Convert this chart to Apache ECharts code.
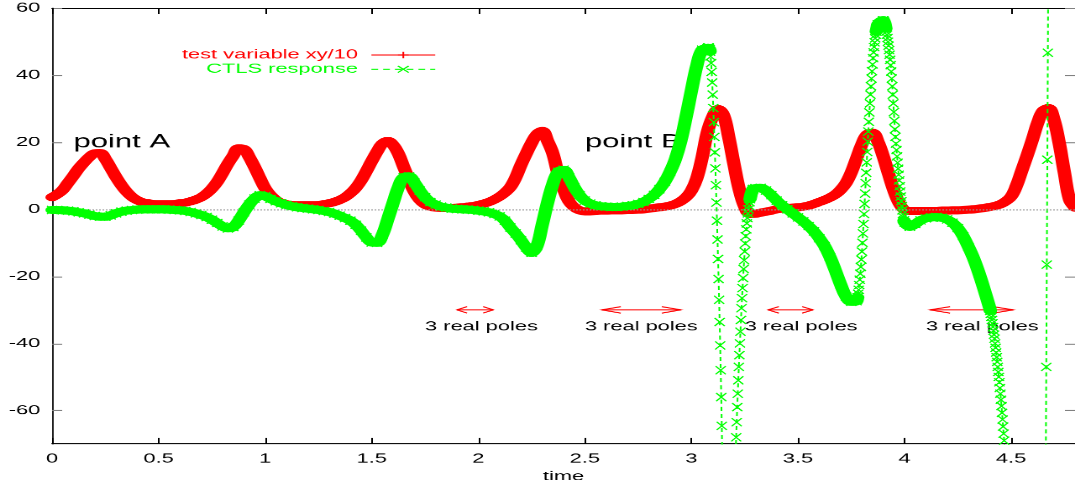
<!DOCTYPE html>
<html>
<head>
<meta charset="utf-8">
<title>test variable and CTLS response</title>
<script src="https://cdn.jsdelivr.net/npm/echarts@6/dist/echarts.min.js"></script>
<style>
  html, body { margin: 0; padding: 0; background: #ffffff; overflow: hidden; }
  /* plot is laid out on a 640x480 canvas and widened to fill the page */
  #chart { width: 640px; height: 480px; transform: scale(1.6797, 1.01667); transform-origin: 0 0; }
</style>
</head>
<body>
<div id="chart"></div>
<script>
// ---- recorded samples -------------------------------------------------
const STEP = 0.025;          // coarse sampling interval (time units)
const DENSE_STEP = 0.0025;   // sampling interval inside the dense runs

// test variable xy/10, one value every STEP from t = 0 to t = 4.8
const testVariable = [
  3.6, 4.5, 5.8, 7.9, 10.0, 12.2, 14.0, 15.6,
  16.7, 16.8, 15.0, 12.3, 9.6, 7.2, 5.2, 3.7,
  2.7, 2.1, 1.8, 1.6, 1.5, 1.5, 1.5, 1.6,
  1.8, 2.0, 2.4, 2.9, 3.6, 4.7, 6.2, 8.2,
  10.8, 13.6, 16.0, 18.2, 18.0, 15.6, 12.6, 9.3,
  6.2, 4.2, 2.8, 1.9, 1.5, 1.3, 1.2, 1.2,
  1.2, 1.2, 1.3, 1.5, 1.8, 2.2, 2.8, 3.6,
  4.8, 6.4, 8.6, 11.4, 14.4, 17.2, 19.6, 20.4,
  19.2, 16.6, 12.6, 8.8, 5.2, 2.8, 1.4, 0.8,
  0.5, 0.4, 0.4, 0.4, 0.5, 0.6, 0.8, 1.0,
  1.3, 1.7, 2.2, 2.9, 3.8, 5.0, 6.6, 9.4,
  13.2, 16.6, 19.8, 22.4, 23.4, 20.4, 16.6, 10.4,
  6.0, 2.4, 0.6, -0.3, -0.6, -0.6, -0.5, -0.4,
  -0.4, -0.3, -0.3, -0.3, -0.2, -0.2, -0.1, 0.0,
  0.2, 0.4, 0.6, 0.8, 1.1, 1.6, 2.4, 3.6,
  5.6, 9.2, 15.4, 23.0, 27.6, 29.9, 28.2, 21.6,
  13.4, 5.8, 0.8, -1.4, -1.3, -1.0, -0.7, -0.4,
  0.0, 0.2, 0.4, 0.5, 0.6, 0.8, 1.1, 1.6,
  2.2, 2.8, 3.5, 4.4, 5.8, 7.8, 11.0, 15.2,
  19.4, 22.4, 22.8, 20.2, 15.8, 10.6, 5.6, 1.8,
  -0.2, -0.5, -0.5, -0.5, -0.5, -0.5, -0.5, -0.4,
  -0.4, -0.3, -0.3, -0.2, -0.1, 0.0, 0.2, 0.4,
  0.7, 1.0, 1.5, 2.4, 3.8, 7.0, 11.5, 16.0,
  20.8, 25.8, 29.4, 30.2, 27.0, 20.0, 11.0, 2.8,
  0.5
];

// CTLS response on the same coarse grid; null where a dense run takes over
const ctlsResponse = [
  -0.2, -0.2, -0.3, -0.4, -0.6, -0.9, -1.2, -1.6,
  -2.0, -2.2, -2.2, -1.8, -1.2, -0.7, -0.4, -0.2,
  -0.1, 0.0, 0.0, 0.0, 0.0, 0.0, -0.1, -0.2,
  -0.3, -0.5, -0.8, -1.2, -1.7, -2.3, -3.1, -4.1,
  -5.1, -5.7, -5.3, -3.4, -0.9, 1.4, 3.2, 4.2,
  3.9, 3.1, 2.4, 1.8, 1.3, 0.9, 0.6, 0.4,
  0.2, 0.0, -0.2, -0.5, -0.8, -1.3, -1.9, -2.6,
  -3.4, -4.6, -6.4, -8.4, -9.9, -10.0, -7.6, -3.0,
  1.9, 6.6, 9.6, 9.8, 8.0, 5.6, 3.6, 2.2,
  1.4, 0.8, 0.5, 0.2, 0.1, 0.0, -0.1, -0.2,
  -0.4, -0.6, -0.9, -1.4, -2.1, -3.4, -5.4, -7.2,
  -9.2, -11.4, -13.0, -11.0, -4.6, 2.0, 7.6, 11.2,
  11.8, 9.6, 6.6, 4.2, 2.6, 1.7, 1.2, 0.9,
  0.8, 0.7, 0.7, 0.8, 1.0, 1.2, 1.6, 2.2,
  3.1, 4.3, 6.0, 8.2, 11.2, 15.0, 20.4, 27.6,
  35.4, 42.8, 47.6, 48.0, null, null, null, -160,
  null, null, null, null, 6.3, 6.4, 5.6, 4.2,
  2.6, 1.2, 0.0, -1.2, -2.4, -3.6, -5.0, -6.6,
  -8.6, -11.0, -14.2, -18.2, -22.4, -26.0, -27.6, -27.4,
  null, null, null, 55.2, 56.4, null, null, null,
  -3.9, -5.2, -4.4, -3.3, -2.7, -2.4, -2.3, -2.5,
  -3.0, -4.0, -5.6, -8.0, -11.2, -14.8, -19.2, -24.2,
  -29.5, null, null, null, -100, -135, -175, -215,
  -250, -270, -240, 78, 180, 230, 250, 260,
  265
];

// stretches where the response moves fast, sampled every DENSE_STEP
const ctlsDenseRuns = [
  { start: 3.0775, values: [48.2, 48.3, 48.2, 47.8, 47.0, 45.6, 43.6, 41.0, 37.8, 34.2,
                            30.2, 26.0, 21.6, 17.0, 12.2, 7.2, 2.0, -3.4, -9.0, -14.8,
                            -20.8, -27.0, -33.6, -40.6, -48.0, -56.0, -64.6, -74.0, -84.0, -95.0] },
  { start: 3.19,   values: [-110, -104, -98, -92, -87, -82, -77, -72.5, -68, -63.5,
                            -59, -55, -51, -47, -43.5, -40, -36.5, -33, -29.5, -26.5,
                            -23.5, -20.5, -17.8, -15.2, -12.6, -10.2, -8.0, -6.0, -4.2, -2.6,
                            -1.2, 0.0, 1.1, 2.1, 3.0, 3.8, 4.5, 5.0, 5.5, 5.9, 6.1] },
  { start: 3.7775, values: [-27.0, -26.2, -25.2, -24.0, -22.6, -21.0, -19.2, -17.2, -15.0, -12.6,
                            -10.0, -7.2, -4.4, -1.4, 1.6, 4.7, 7.8, 10.9, 14.0, 17.1,
                            20.2, 23.2, 26.1, 28.9, 31.6, 34.2, 36.7, 39.0, 41.2, 43.2,
                            45.1, 46.8, 48.4, 49.8, 51.0, 52.1, 53.0, 53.8, 54.5] },
  { start: 3.9025, values: [56.2, 55.9, 55.4, 54.7, 53.9, 53.0, 52.1, 51.1, 50.0, 48.8,
                            47.5, 46.1, 44.6, 43.0, 41.1, 39.0, 36.7, 34.2, 31.6, 29.0,
                            26.4, 23.9, 21.6, 19.6, 17.7, 15.8, 13.9, 12.1, 10.3, 8.6,
                            6.9, 5.3, 3.8, 2.4, 1.0, -0.3, -1.4, -2.4, -3.3] },
  { start: 4.4025, values: [-30.3, -31.2, -32.1, -33.0, -34.0, -35.1, -36.2, -37.4, -38.6, -40.0,
                            -41.3, -42.7, -44.1, -45.5, -47.0, -48.5, -50.0, -51.6, -53.3, -55.0,
                            -56.8, -58.7, -60.7, -62.7, -64.8, -66.9, -69.0, -71.2, -73.5, -75.8] },
  { start: 4.6525, values: [-202, -171, -140, -109, -78, -47, -16.5, 14.8, 46.7] }
];

const xTicks = [0, 0.5, 1, 1.5, 2, 2.5, 3, 3.5, 4, 4.5];
const yTicks = [-60, -40, -20, 0, 20, 40, 60];

// annotations: [text, time, value]
const pointLabels = [['point A', 0.1, 20], ['point B', 2.5, 20]];
// intervals with three real poles: [from, to, arrow level] and label anchors [time, value]
const poleArrows = [[1.90, 2.07, -30], [2.58, 2.95, -30], [3.36, 3.57, -30], [4.12, 4.51, -30]];
const poleLabels = [[1.75, -35], [2.5, -35], [3.25, -35], [4.1, -35]];
const POLE_TEXT = '3 real poles';

// ---- build point lists ------------------------------------------------
const tAt = (i) => +(i * STEP).toFixed(4);
const redPts = testVariable.map((v, i) => [tAt(i), v]);

const greenPts = [];
ctlsResponse.forEach((v, i) => { if (v !== null) greenPts.push([tAt(i), v]); });
ctlsDenseRuns.forEach(run => {
  run.values.forEach((v, k) => greenPts.push([+(run.start + k * DENSE_STEP).toFixed(4), v]));
});
greenPts.sort((a, b) => a[0] - b[0]);

// the heavy trace only follows slow stretches; fast ones show the single samples
const STEEP = 350;
const isSteep = (a, b) => Math.abs((b[1] - a[1]) / (b[0] - a[0])) > STEEP;
const greenBand = [];
greenPts.forEach((p, i) => {
  const prevFlat = i > 0 && !isSteep(greenPts[i - 1], p);
  const nextFlat = i < greenPts.length - 1 && !isSteep(p, greenPts[i + 1]);
  if (prevFlat || nextFlat) greenBand.push(p);
  if (i < greenPts.length - 1 && !nextFlat) greenBand.push([(p[0] + greenPts[i + 1][0]) / 2, null]);
});

// ---- chart ------------------------------------------------------------
const FONT = '"Liberation Sans", Arial, Helvetica, sans-serif';
const RED = '#ff0000';
const GREEN = '#00ff00';
const PLUS = 'path://M4,0L4,8M0,4L8,4';
const CROSS = 'path://M0,0L8,8M8,0L0,8';

const chart = echarts.init(document.getElementById('chart'), null, { renderer: 'canvas', devicePixelRatio: 2 });

const hiddenAxisBits = { axisLabel: { show: false }, splitLine: { show: false } };

chart.setOption({
  animation: false,
  backgroundColor: '#ffffff',
  textStyle: { fontFamily: FONT },
  grid: { left: 31, right: 0, top: 8, bottom: 43.3, containLabel: false, outerBoundsMode: 'none' },
  legend: {
    orient: 'vertical',
    align: 'right',
    right: 380.4,
    top: 47.6,
    padding: 0,
    itemGap: 1,
    itemWidth: 38,
    itemHeight: 8,
    selectedMode: false,
    lineStyle: { width: 1 },
    itemStyle: { borderWidth: 1 },
    textStyle: { fontSize: 13, fontFamily: FONT, padding: [0, 3, 0, 0] },
    data: [
      { name: 'test variable xy/10', textStyle: { color: RED },
        lineStyle: { width: 1, color: RED }, itemStyle: { color: 'none', borderColor: RED, borderWidth: 1 } },
      { name: 'CTLS response', textStyle: { color: GREEN },
        lineStyle: { width: 1, color: GREEN, type: [4, 3] }, itemStyle: { color: 'none', borderColor: GREEN, borderWidth: 1 } }
    ]
  },
  xAxis: [
    {
      type: 'value', min: 0, max: 4.8, position: 'bottom',
      name: 'time', nameLocation: 'middle', nameGap: 25,
      nameTextStyle: { fontSize: 13, color: '#000', fontFamily: FONT },
      axisLine: { show: true, onZero: false, lineStyle: { color: '#000', width: 1 } },
      axisTick: { show: true, inside: true, length: 6, customValues: xTicks, lineStyle: { color: '#000' } },
      axisLabel: { customValues: xTicks, margin: 8, fontSize: 13, color: '#000', fontFamily: FONT },
      splitLine: { show: false }
    },
    Object.assign({
      type: 'value', min: 0, max: 4.8, position: 'top',
      axisLine: { show: true, onZero: false, lineStyle: { color: '#000', width: 1 } },
      axisTick: { show: true, inside: true, length: 6, customValues: xTicks, lineStyle: { color: '#000' } }
    }, hiddenAxisBits)
  ],
  yAxis: [
    {
      type: 'value', min: -70, max: 60, position: 'left',
      axisLine: { show: true, onZero: false, lineStyle: { color: '#222', width: 1 } },
      axisTick: { show: true, inside: true, length: 6, customValues: yTicks, lineStyle: { color: '#808080' } },
      axisLabel: { customValues: yTicks, margin: 7, fontSize: 13, color: '#000', fontFamily: FONT },
      splitLine: { show: false }
    },
    Object.assign({
      type: 'value', min: -70, max: 60, position: 'right',
      axisLine: { show: false, onZero: false },
      axisTick: { show: true, inside: true, length: 6, customValues: yTicks, lineStyle: { color: '#808080' } }
    }, hiddenAxisBits)
  ],
  series: [
    {
      // dotted zero reference
      type: 'line', name: 'zero', data: [], z: 1, silent: true,
      markLine: {
        silent: true, symbol: ['none', 'none'], label: { show: false },
        lineStyle: { color: '#999', width: 1, type: [1, 1] },
        data: [{ yAxis: 0 }]
      }
    },
    {
      // double arrows over the three-real-pole intervals
      type: 'custom', name: 'poleArrows', z: 1, silent: true,
      encode: { x: [0, 1], y: 2 },
      data: poleArrows,
      renderItem: (params, api) => {
        const a = api.coord([api.value(0), api.value(2)]);
        const b = api.coord([api.value(1), api.value(2)]);
        const head = Math.max(6, Math.min(12, (b[0] - a[0]) * 0.24));
        const hw = 3.2;
        const style = { stroke: RED, lineWidth: 1, fill: null };
        return {
          type: 'group',
          children: [
            { type: 'line', shape: { x1: a[0], y1: a[1], x2: b[0], y2: b[1] }, style },
            { type: 'polyline', shape: { points: [[a[0] + head, a[1] - hw], [a[0], a[1]], [a[0] + head, a[1] + hw]] }, style },
            { type: 'polyline', shape: { points: [[b[0] - head, b[1] - hw], [b[0], b[1]], [b[0] - head, b[1] + hw]] }, style }
          ]
        };
      }
    },
    {
      type: 'custom', name: 'poleLabels', z: 1, silent: true,
      encode: { x: 0, y: 1 },
      data: poleLabels,
      renderItem: (params, api) => {
        const p = api.coord([api.value(0), api.value(1)]);
        return {
          type: 'text', x: p[0], y: p[1],
          style: { text: POLE_TEXT, fill: '#000', fontSize: 13, fontFamily: FONT, align: 'left', verticalAlign: 'middle' }
        };
      }
    },
    {
      type: 'custom', name: 'pointLabels', z: 1, silent: true,
      encode: { x: 0, y: 1 },
      data: pointLabels.map(d => [d[1], d[2]]),
      renderItem: (params, api) => {
        const p = api.coord([api.value(0), api.value(1)]);
        return {
          type: 'text', x: p[0], y: p[1],
          style: { text: pointLabels[params.dataIndex][0], fill: '#000', fontSize: 18.5, fontFamily: FONT, align: 'left', verticalAlign: 'middle' }
        };
      }
    },
    {
      name: 'test variable xy/10', type: 'line', z: 2, data: redPts,
      symbol: PLUS, symbolSize: 7, showSymbol: true, showAllSymbol: true,
      itemStyle: { color: RED, borderColor: RED, borderWidth: 1 },
      lineStyle: { color: RED, width: 1 },
      clip: true
    },
    {
      name: 'testBand', type: 'line', z: 3, data: redPts,
      symbol: 'none', smooth: 0.4, clip: true,
      lineStyle: { color: RED, width: 8, cap: 'round', join: 'round' }
    },
    {
      name: 'CTLS response', type: 'line', z: 4, data: greenPts,
      symbol: CROSS, symbolSize: [6, 8], showSymbol: true, showAllSymbol: true,
      itemStyle: { color: GREEN, borderColor: GREEN, borderWidth: 1 },
      lineStyle: { color: GREEN, width: 1, type: [4, 3] },
      clip: true
    },
    {
      name: 'ctlsBand', type: 'line', z: 5, data: greenBand,
      symbol: 'none', smooth: 0.4, connectNulls: false, clip: true,
      lineStyle: { color: GREEN, width: 8, cap: 'round', join: 'round' }
    }
  ]
});
</script>
</body>
</html>
